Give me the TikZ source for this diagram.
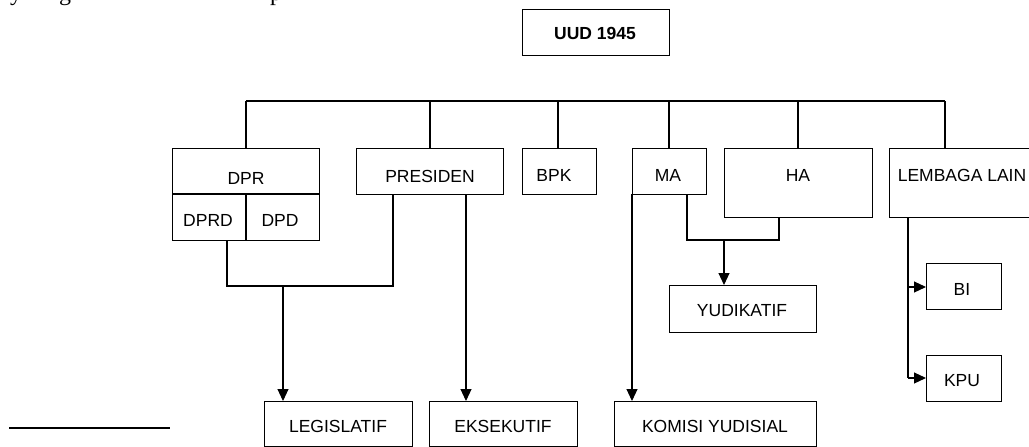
\documentclass[tikz,border=0pt]{standalone}
\usepackage{fontspec}
\setmainfont{Liberation Sans}
\newfontfamily\serifpart{Liberation Serif}
\usetikzlibrary{arrows.meta}
\tikzset{
  box/.style={draw, line width=1.1pt, rectangle, inner sep=0pt, anchor=north west},
  lbl/.style={inner sep=0pt, font=\fontsize{17.5}{20}\selectfont},
  conn/.style={line width=1.1pt},
  arr/.style={line width=1.1pt, -{Triangle[width=11pt,length=12pt]}},
  frag/.style={inner sep=0pt, anchor=base, font=\serifpart\fontsize{24}{26}\selectfont}
}
\begin{document}
\begin{tikzpicture}[x=1pt, y=-1pt]
\useasboundingbox (0,0) rectangle (1029,447);
% cut-off text fragments at the top edge
\node[frag] (f1) at (16,0) {y};
\node[frag] (f2) at (65,0) {g};
\node[frag] (f3) at (276,0) {p};
% footnote rule
\coordinate (fnA) at (9,428);
\coordinate (fnB) at (170,428);
\draw[line width=1.3pt] (fnA) -- (fnB);

% boxes
\node[box, minimum width=147pt, minimum height=46pt] (uud) at (522,9) {};
\node[lbl, font=\bfseries\fontsize{17.5}{20}\selectfont] (uudt) at (595,33) {UUD 1945};

\node[box, minimum width=147pt, minimum height=92pt] (dpr) at (172,148) {};
\coordinate (dprmidL) at (172,194);
\coordinate (dprmidR) at (319,194);
\coordinate (dprdiv) at (246,194);
\draw[conn] (dprmidL) -- (dprmidR);
\draw[conn] (dprdiv) -- (dprdiv |- dpr.south);
\node[lbl] (dprt) at (246,178) {DPR};
\node[lbl] (dprdt) at (208,220) {DPRD};
\node[lbl] (dpdt) at (280,220) {DPD};

\node[box, minimum width=147pt, minimum height=46pt] (pres) at (356,148) {};
\node[lbl] (prest) at (430,176) {PRESIDEN};

\node[box, minimum width=74pt, minimum height=46pt] (bpk) at (522,148) {};
\node[lbl] (bpkt) at (554,175) {BPK};

\node[box, minimum width=74pt, minimum height=46pt] (ma) at (632,148) {};
\node[lbl] (mat) at (668,175) {MA};

\node[box, minimum width=148pt, minimum height=69pt] (ha) at (724,148) {};
\node[lbl] (hat) at (798,175) {HA};

\node[box, minimum width=150pt, minimum height=69pt] (lem) at (889,148) {};
\node[lbl] (lemt) at (962,175) {LEMBAGA LAIN};

\node[box, minimum width=147pt, minimum height=47pt] (yud) at (669,285) {};
\node[lbl] (yudt) at (742,311) {YUDIKATIF};

\node[box, minimum width=75pt, minimum height=46pt] (bi) at (926,263) {};
\node[lbl] (bit) at (962,289) {BI};

\node[box, minimum width=75pt, minimum height=46pt] (kpu) at (926,355) {};
\node[lbl] (kput) at (962,381) {KPU};

\node[box, minimum width=148pt, minimum height=45pt] (leg) at (264,401) {};
\node[lbl] (legt) at (338,426) {LEGISLATIF};

\node[box, minimum width=148pt, minimum height=45pt] (eks) at (429,401) {};
\node[lbl] (ekst) at (503,426) {EKSEKUTIF};

\node[box, minimum width=202pt, minimum height=45pt] (kom) at (614,401) {};
\node[lbl] (komt) at (715,426) {KOMISI YUDISIAL};

% top bus
\coordinate (busL) at (246,101);
\coordinate (busR) at (945,101);
\draw[conn] (busL) -- (busR);
\coordinate (dprIn) at (246,148);
\coordinate (presIn) at (430,148);
\coordinate (bpkIn) at (558,148);
\coordinate (maIn) at (669,148);
\coordinate (haIn) at (798,148);
\coordinate (lemIn) at (945,148);
\foreach \c in {dprIn,presIn,bpkIn,maIn,haIn,lemIn}
  \draw[conn] (\c |- busL) -- (\c);

% legislatif bracket
\coordinate (dprOut) at (227,240);
\coordinate (presOut) at (393,194);
\coordinate (legJ) at (283,286);
\draw[conn] (dprOut) -- (dprOut |- legJ) -- (presOut |- legJ) -- (presOut);
\draw[arr] (legJ) -- (legJ |- leg.north);

% eksekutif
\coordinate (presOut2) at (466,194);
\draw[arr] (presOut2) -- (presOut2 |- eks.north);

% komisi yudisial
\coordinate (maOutL) at (632,194);
\draw[arr] (maOutL) -- (maOutL |- kom.north);

% yudikatif bracket
\coordinate (maOut) at (687,194);
\coordinate (haOut) at (779,217);
\coordinate (yudJ) at (724,240);
\draw[conn] (maOut) -- (maOut |- yudJ) -- (haOut |- yudJ) -- (haOut);
\draw[arr] (yudJ) -- (yudJ |- yud.north);

% lembaga lain
\coordinate (lemOut) at (908,217);
\coordinate (kpuJ) at (908,378);
\coordinate (biJ) at (908,287);
\draw[conn] (lemOut) -- (kpuJ);
\draw[arr] (kpuJ) -- (kpuJ -| kpu.west);
\draw[arr] (biJ) -- (biJ -| bi.west);
\end{tikzpicture}
\end{document}
